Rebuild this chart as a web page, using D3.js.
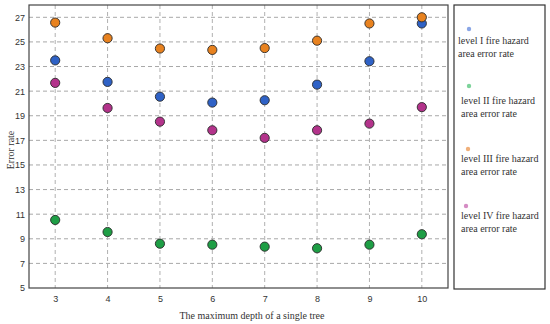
<!DOCTYPE html>
<html>
<head>
<meta charset="utf-8">
<script src="https://cdn.jsdelivr.net/npm/d3@7"></script>
<style>
  body { margin: 0; background: #fff; }
  svg text { fill: #333; }
</style>
</head>
<body>
<div id="chart"></div>
<script>
//-- Data --//
var depths = [3, 4, 5, 6, 7, 8, 9, 10];
var level1 = [23.5, 21.75, 20.55, 20.07, 20.26, 21.53, 23.43, 26.5];
var level2 = [10.53, 9.55, 8.6, 8.52, 8.36, 8.23, 8.52, 9.37];
var level3 = [26.57, 25.3, 24.46, 24.35, 24.5, 25.1, 26.5, 27.0];
var level4 = [21.67, 19.63, 18.52, 17.82, 17.2, 17.82, 18.36, 19.7];
var yTicks = [5, 7, 9, 11, 13, 15, 17, 19, 21, 23, 25, 27];
var seriesNames = [
  ["level I fire hazard", "area error rate"],
  ["level II fire hazard", "area error rate"],
  ["level III fire hazard", "area error rate"],
  ["level IV fire hazard", "area error rate"]
];
var colors = ["#2f62c6", "#1e9e45", "#e8821f", "#b3338b"];
var lightColors = ["#8aa6e6", "#7dd39a", "#f0b07a", "#d58cc4"];

var series = [level1, level2, level3, level4];

//-- Layout --//
var W = 550, H = 324;
var plot = {left: 29, right: 448, top: 5, bottom: 288};

var svg = d3.select("#chart").append("svg")
  .attr("width", W)
  .attr("height", H);

//-- Scales --//
var xScale = d3.scaleLinear().domain([2.5, 10.5]).range([plot.left, plot.right]);
var yScale = d3.scaleLinear().domain([5, 28]).range([plot.bottom, plot.top]);

//-- Grid --//
svg.append("g").selectAll("line.hg")
  .data(yTicks.filter(function(t){ return t > 5; }))
  .enter().append("line")
  .attr("x1", plot.left).attr("x2", plot.right)
  .attr("y1", function(d){ return yScale(d); })
  .attr("y2", function(d){ return yScale(d); })
  .attr("stroke", "#a8a8a8")
  .attr("stroke-width", 1)
  .attr("stroke-dasharray", "4,3");

svg.append("g").selectAll("line.vg")
  .data(depths)
  .enter().append("line")
  .attr("x1", function(d){ return xScale(d); })
  .attr("x2", function(d){ return xScale(d); })
  .attr("y1", plot.top).attr("y2", plot.bottom)
  .attr("stroke", "#b0b0b0")
  .attr("stroke-width", 1)
  .attr("stroke-dasharray", "4,3");

//-- Axes --//
var xAxis = d3.axisBottom(xScale).tickValues(depths).tickSize(0).tickPadding(8);
var yAxis = d3.axisLeft(yScale).tickValues(yTicks).tickSize(0).tickPadding(4);

var gx = svg.append("g")
  .attr("transform", "translate(0," + plot.bottom + ")")
  .call(xAxis);
var gy = svg.append("g")
  .attr("transform", "translate(" + plot.left + ",0)")
  .call(yAxis);
[gx, gy].forEach(function(g){
  g.select(".domain").remove();
  g.selectAll("text")
    .style("font-family", "'Liberation Sans', Arial, sans-serif")
    .style("font-size", "9px")
    .attr("fill", "#444");
});

// frame
svg.append("rect")
  .attr("x", plot.left).attr("y", plot.top)
  .attr("width", plot.right - plot.left)
  .attr("height", plot.bottom - plot.top)
  .attr("fill", "none")
  .attr("stroke", "#444")
  .attr("stroke-width", 1.2);

//-- Points --//
series.forEach(function(vals, i){
  svg.append("g").selectAll("circle")
    .data(vals)
    .enter().append("circle")
    .attr("cx", function(d, j){ return xScale(depths[j]); })
    .attr("cy", function(d){ return yScale(d); })
    .attr("r", 4.6)
    .attr("fill", colors[i])
    .attr("stroke", "#2a2a2a")
    .attr("stroke-width", 0.9);
});

//-- Axis titles --//
svg.append("text")
  .attr("x", 252).attr("y", 319)
  .attr("text-anchor", "middle")
  .style("font-family", "'Liberation Serif', 'Times New Roman', serif")
  .style("font-size", "10px")
  .text("The maximum depth of a single tree");

svg.append("text")
  .attr("transform", "translate(14,150) rotate(-90)")
  .attr("text-anchor", "middle")
  .style("font-family", "'Liberation Serif', 'Times New Roman', serif")
  .style("font-size", "10px")
  .text("Error rate");

//-- Legend --//
svg.append("rect")
  .attr("x", 454).attr("y", 5)
  .attr("width", 91).attr("height", 284)
  .attr("fill", "none")
  .attr("stroke", "#333")
  .attr("stroke-width", 1.2);

var legendPos = [
  {dx: 469, dy: 29, tx: 458, ty: 44},
  {dx: 469, dy: 86, tx: 461, ty: 104},
  {dx: 468, dy: 149, tx: 461, ty: 162},
  {dx: 466, dy: 206, tx: 461, ty: 219}
];

var lg = svg.append("g").selectAll("g")
  .data(seriesNames)
  .enter().append("g");

lg.append("circle")
  .attr("cx", function(d, i){ return legendPos[i].dx; })
  .attr("cy", function(d, i){ return legendPos[i].dy; })
  .attr("r", 2.2)
  .attr("fill", function(d, i){ return lightColors[i]; });

lg.append("text")
  .attr("x", function(d, i){ return legendPos[i].tx; })
  .attr("y", function(d, i){ return legendPos[i].ty; })
  .style("font-family", "'Liberation Serif', 'Times New Roman', serif")
  .style("font-size", "10px")
  .selectAll("tspan")
  .data(function(d){ return d; })
  .enter().append("tspan")
  .attr("x", function(){ return d3.select(this.parentNode).attr("x"); })
  .attr("dy", function(d, j){ return j === 0 ? 0 : 12.5; })
  .text(function(d){ return d; });
</script>
</body>
</html>
